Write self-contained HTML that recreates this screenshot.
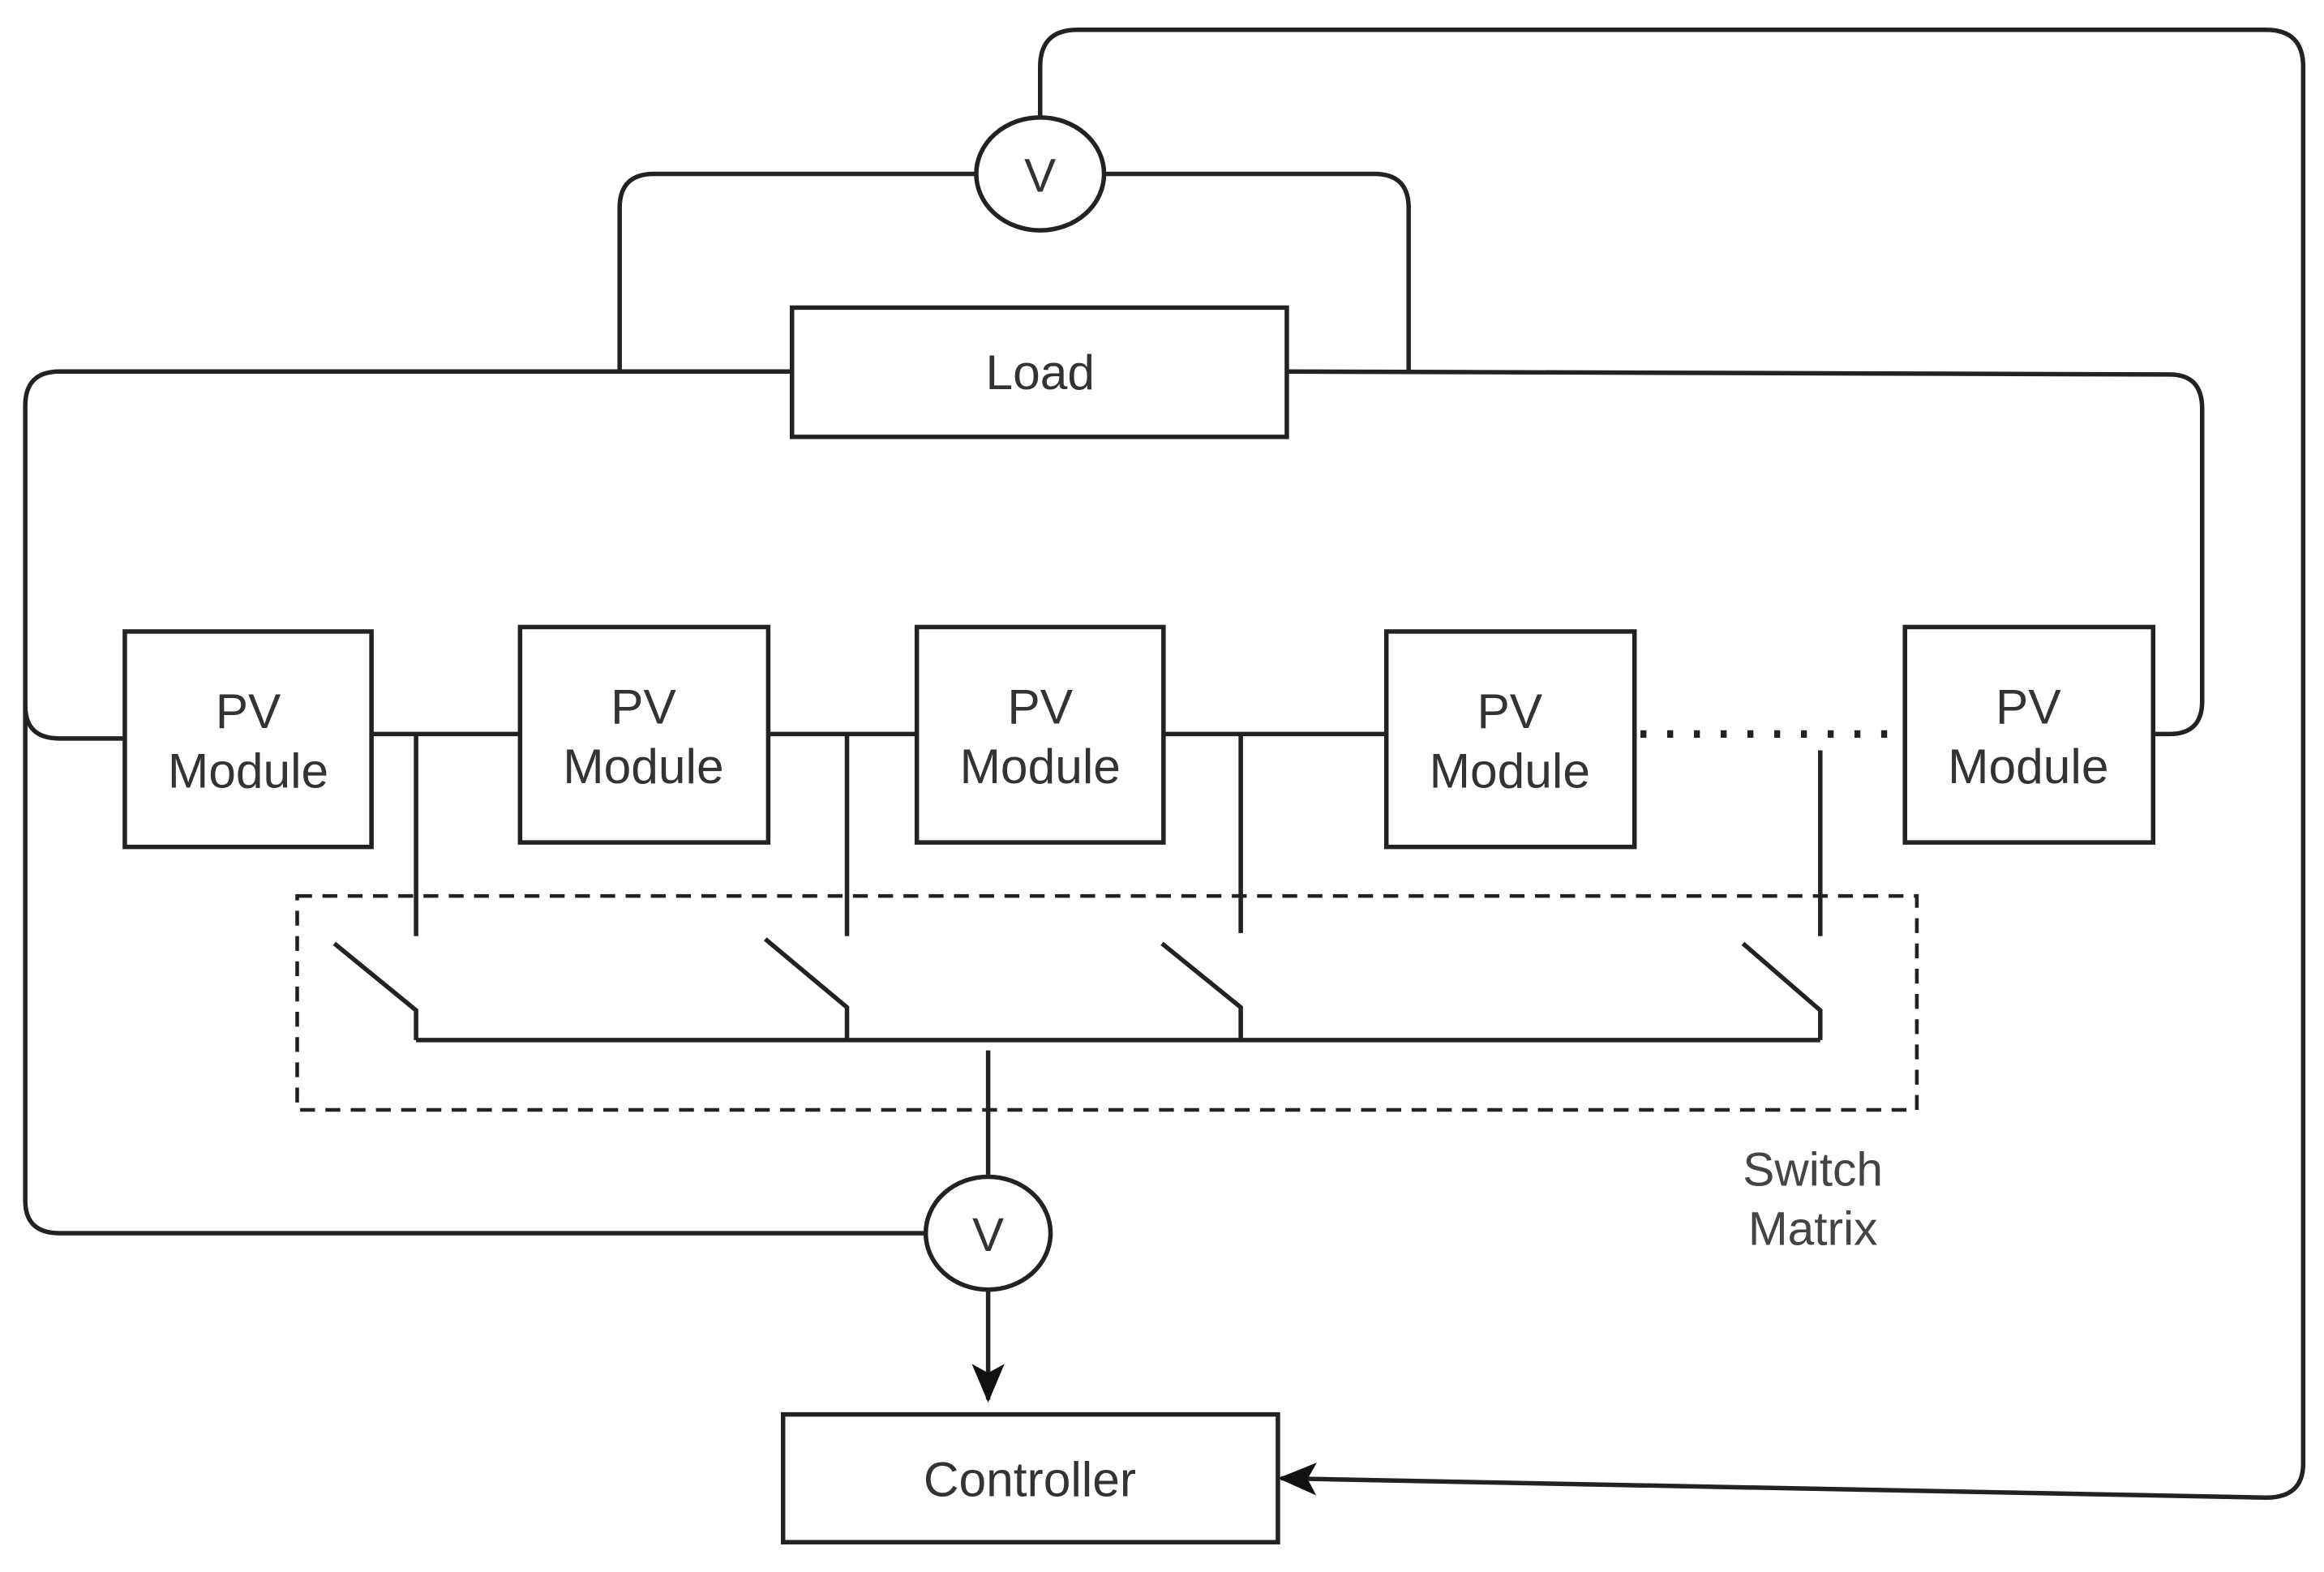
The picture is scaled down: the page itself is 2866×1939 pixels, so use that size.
<!DOCTYPE html>
<html><head><meta charset="utf-8"><style>html,body{margin:0;padding:0;background:#fff}svg{display:block}</style></head>
<body>
<svg width="2866" height="1939" viewBox="0 0 1564 1058" xmlns="http://www.w3.org/2000/svg" font-family="Liberation Sans, sans-serif" fill="none" stroke="#222" stroke-width="3">
<defs><marker id="ah" markerWidth="10" markerHeight="10" refX="8" refY="5" orient="auto" markerUnits="userSpaceOnUse" viewBox="0 0 10 10"><path d="M0,0 L10,5 L0,10 L3,5 z" fill="#111" stroke="none" transform="scale(1)"/></marker>
<marker id="ah2" markerWidth="26" markerHeight="26" refX="24" refY="13" orient="auto" markerUnits="userSpaceOnUse"><path d="M0,2 L26,13 L0,24 L6,13 z" fill="#111" stroke="none"/></marker></defs>
<!-- top voltmeter loop -->
<ellipse cx="700" cy="117" rx="43" ry="38"/>
<path d="M657,117 H440 Q417,117 417,140 V250"/>
<path d="M743,117 H925 Q948,117 948,140 V250"/>
<path d="M700,79 V45 Q700,20 725,20 H1525 Q1550,20 1550,45 V985 Q1550,1008 1525,1008 L862,995" marker-end="url(#ah2)"/>
<!-- load -->
<rect x="533" y="207" width="333" height="87"/>
<text x="700" y="262" font-size="33" fill="#333" stroke="none" text-anchor="middle">Load</text>
<path d="M533,250 H40 Q17,250 17,273 V808 Q17,830 40,830 H623"/>
<path d="M17,475 Q17,497 40,497 H84"/>
<path d="M866,250 L1460,252 Q1482,252 1482,275 V472 Q1482,494 1460,494 H1449"/>
<!-- PV modules -->
<g>
<rect x="84" y="425" width="166" height="145"/>
<rect x="350" y="422" width="167" height="145"/>
<rect x="617" y="422" width="166" height="145"/>
<rect x="933" y="425" width="167" height="145"/>
<rect x="1282" y="422" width="167" height="145"/>
</g>
<g font-size="33" fill="#333" stroke="none" text-anchor="middle">
<text x="167" y="490">PV</text><text x="167" y="530">Module</text>
<text x="433" y="487">PV</text><text x="433" y="527">Module</text>
<text x="700" y="487">PV</text><text x="700" y="527">Module</text>
<text x="1016" y="490">PV</text><text x="1016" y="530">Module</text>
<text x="1365" y="487">PV</text><text x="1365" y="527">Module</text>
</g>
<path d="M250,494 H350 M517,494 H617 M783,494 H933"/>
<path d="M1104,494 H1280" stroke-dasharray="4,14" stroke-width="5"/>
<path d="M280,494 V630 M570,494 V630 M835,494 V628 M1225,505 V630"/>
<!-- switches -->
<path d="M225,635 L280,680 V700 M515,632 L570,678 V700 M782,635 L835,678 V700 M1173,635 L1225,680 V700 M280,700 H1225"/>
<rect x="200" y="603" width="1090" height="144" stroke-dasharray="10,7" stroke-width="2.5"/>
<path d="M665,707 V792"/>
<ellipse cx="665" cy="830" rx="42" ry="38"/>
<text x="665" y="842" font-size="32" fill="#333" stroke="none" text-anchor="middle">V</text>
<text x="700" y="129" font-size="32" fill="#333" stroke="none" text-anchor="middle">V</text>
<path d="M665,868 V942" marker-end="url(#ah2)"/>
<text x="1220" y="798" font-size="32" fill="#444" stroke="none" text-anchor="middle">Switch</text>
<text x="1220" y="838" font-size="32" fill="#444" stroke="none" text-anchor="middle">Matrix</text>
<rect x="527" y="952" width="333" height="86"/>
<text x="693" y="1007" font-size="33" fill="#333" stroke="none" text-anchor="middle">Controller</text>
</svg>
</body></html>
